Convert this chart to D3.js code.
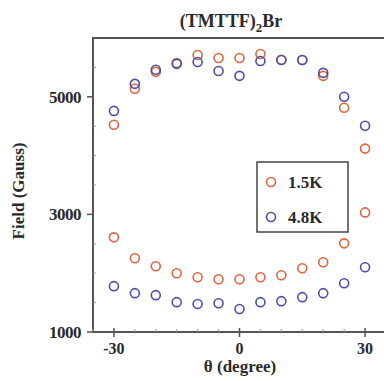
<!DOCTYPE html>
<html><head><meta charset="utf-8">
<script src="https://cdn.jsdelivr.net/npm/d3@7"></script>
<style>body{margin:0;background:#fff;}svg{display:block;}</style>
</head><body>
<svg id="c" width="384" height="381"></svg>
<script>
const angles = [-30,-25,-20,-15,-10,-5,0,5,10,15,20,25,30];
const upper15 = [4525,5136,5424,5576,5712,5660,5660,5729,5630,5627,5356,4813,4119];
const lower15 = [2610,2254,2119,2000,1932,1898,1898,1932,1966,2085,2186,2508,3034];
const upper48 = [4760,5220,5460,5560,5593,5440,5356,5610,5627,5627,5407,5000,4508];
const lower48 = [1780,1661,1627,1508,1475,1490,1390,1508,1525,1593,1661,1830,2100];
const yTicks = [1000,3000,5000];
const xTicks = [-30,0,30];
const seriesNames = ["1.5K","4.8K"];
const colors = ["#e0653e","#4b4fa6"];

const svg = d3.select("#c");
const L=93, R=386, T=38, B=332;
const x = d3.scaleLinear().domain([-35,35]).range([L,R]);
const y = d3.scaleLinear().domain([1000,6000]).range([B,T]);
const font = "'Liberation Serif', 'Times New Roman', serif";
const axCol = "#555";
const txtCol = "#2a2a2a";

// frame
svg.append("path").attr("d",`M${L},${B}V${T}H${R}`).attr("fill","none").attr("stroke",axCol).attr("stroke-width",2);
svg.append("line").attr("x1",L-1).attr("x2",R).attr("y1",B).attr("y2",B).attr("stroke",axCol).attr("stroke-width",2);

// y minor ticks
d3.range(1500,6000,500).forEach(v=>{
  if(yTicks.includes(v)) return;
  svg.append("line").attr("x1",L).attr("x2",L+3).attr("y1",y(v)).attr("y2",y(v)).attr("stroke","#999").attr("stroke-width",1);
});
yTicks.forEach(v=>{
  svg.append("line").attr("x1",L-6).attr("x2",L).attr("y1",y(v)).attr("y2",y(v)).attr("stroke",axCol).attr("stroke-width",1.5);
  svg.append("text").attr("x",L-12).attr("y",y(v)+6).attr("text-anchor","end")
    .attr("font-family",font).attr("font-weight","bold").attr("font-size",17).attr("letter-spacing",-0.5).attr("fill",txtCol).text(v);
});
// x ticks
d3.range(-35,36,5).forEach(v=>{
  if(xTicks.includes(v)) return;
  svg.append("line").attr("x1",x(v)).attr("x2",x(v)).attr("y1",B).attr("y2",B-3).attr("stroke","#999").attr("stroke-width",1);
});
xTicks.forEach(v=>{
  svg.append("line").attr("x1",x(v)).attr("x2",x(v)).attr("y1",B-4).attr("y2",B+5).attr("stroke",axCol).attr("stroke-width",1.5);
  svg.append("text").attr("x",x(v)).attr("y",B+22).attr("text-anchor","middle")
    .attr("font-family",font).attr("font-weight","bold").attr("font-size",16).attr("fill",txtCol).text(v);
});

// axis titles
svg.append("text").attr("transform",`translate(24,191) rotate(-90)`).attr("text-anchor","middle")
  .attr("font-family",font).attr("font-weight","bold").attr("font-size",17).attr("fill",txtCol).text("Field (Gauss)");
svg.append("text").attr("x",240).attr("y",372).attr("text-anchor","middle")
  .attr("font-family",font).attr("font-weight","bold").attr("font-size",17).attr("fill",txtCol).text("θ (degree)");

// title
const t = svg.append("text").attr("x",231).attr("y",27).attr("text-anchor","middle")
  .attr("font-family",font).attr("font-weight","bold").attr("font-size",18).attr("fill",txtCol);
t.append("tspan").text("(TMTTF)");
t.append("tspan").attr("font-size",13).attr("dy",5).text("2");
t.append("tspan").attr("dy",-5).text("Br");

// data
const sets = [
  {vals:upper15, c:0},{vals:lower15, c:0},
  {vals:upper48, c:1},{vals:lower48, c:1}
];
sets.forEach(s=>{
  svg.append("g").selectAll("circle").data(angles.map((a,i)=>[a,s.vals[i]])).join("circle")
    .attr("cx",d=>x(d[0])).attr("cy",d=>y(d[1])).attr("r",4.5)
    .attr("fill","none").attr("stroke",colors[s.c]).attr("stroke-width",1.6);
});

// legend
const lg = svg.append("g");
lg.append("rect").attr("x",257).attr("y",162).attr("width",91).attr("height",70)
  .attr("fill","#fff").attr("stroke","#444").attr("stroke-width",1.5);
seriesNames.forEach((n,i)=>{
  const yy = 182 + i*35;
  lg.append("circle").attr("cx",271).attr("cy",yy).attr("r",4.5).attr("fill","none").attr("stroke",colors[i]).attr("stroke-width",1.6);
  lg.append("text").attr("x",288).attr("y",yy+6).attr("font-family",font).attr("font-weight","bold")
    .attr("font-size",17).attr("fill",txtCol).text(n);
});
</script>
</body></html>
